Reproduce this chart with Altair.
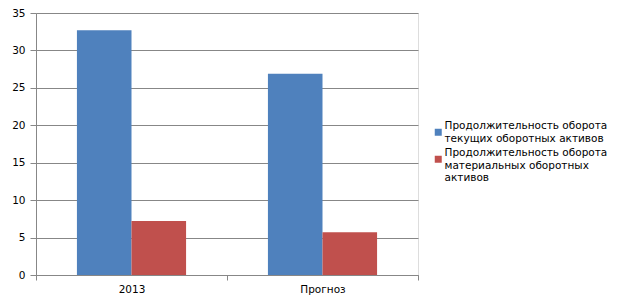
import altair as alt
import pandas as pd

categories = ["2013", "Прогноз"]
series = [
    "Продолжительность оборота\nтекущих оборотных активов",
    "Продолжительность оборота\nматериальных оборотных\nактивов",
]
current_assets = [32.7, 26.9]
material_assets = [7.2, 5.7]
colors = ["#4F81BD", "#C0504D"]
y_ticks = [0, 5, 10, 15, 20, 25, 30, 35]

rows = []
for i, c in enumerate(categories):
    rows.append({"cat": c, "series": series[0], "value": current_assets[i]})
    rows.append({"cat": c, "series": series[1], "value": material_assets[i]})
df = pd.DataFrame(rows)

FONT = "DejaVu Sans"
GRID = "#878787"

chart = alt.Chart(df).mark_bar().encode(
    x=alt.X("cat:N", sort=categories, title=None,
            scale=alt.Scale(paddingInner=0, paddingOuter=0),
            axis=alt.Axis(labelAngle=0, tickBand="extent", domainColor=GRID,
                          tickColor=GRID, tickSize=5, labelPadding=4,
                          labelFont=FONT, labelFontSize=10.5, labelColor="#000000",
                          grid=False)),
    xOffset=alt.XOffset("series:N", sort=series,
                        scale=alt.Scale(paddingInner=0, paddingOuter=0.75)),
    y=alt.Y("value:Q", title=None,
            scale=alt.Scale(domain=[0, 35], nice=False),
            axis=alt.Axis(values=y_ticks, domainColor=GRID, tickColor=GRID,
                          tickSize=6, labelPadding=5, gridColor=GRID,
                          gridOpacity=1, labelFont=FONT, labelFontSize=10.5,
                          labelColor="#000000")),
    color=alt.Color("series:N", sort=series,
                    scale=alt.Scale(domain=series, range=colors),
                    legend=alt.Legend(title=None, orient="none",
                                      legendX=397, legendY=114,
                                      symbolType="square", symbolSize=49,
                                      symbolStrokeWidth=0, labelOffset=1,
                                      labelFont=FONT, labelFontSize=10.5,
                                      labelBaseline="line-bottom",
                                      labelColor="#000000",
                                      labelExpr="split(datum.label, '\\n')",
                                      labelLimit=300, rowPadding=3, padding=0)),
).properties(
    width=382, height=262,
    autosize=alt.AutoSizeParams(type="none"),
    padding={"left": 36, "top": 13, "right": 203, "bottom": 28},
).configure_view(stroke=None).configure(
    background="#ffffff",
    style={"guide-label": {"lineHeight": 12.5}},
)

chart.save("out.html", embed_options={"renderer": "svg", "actions": False})
